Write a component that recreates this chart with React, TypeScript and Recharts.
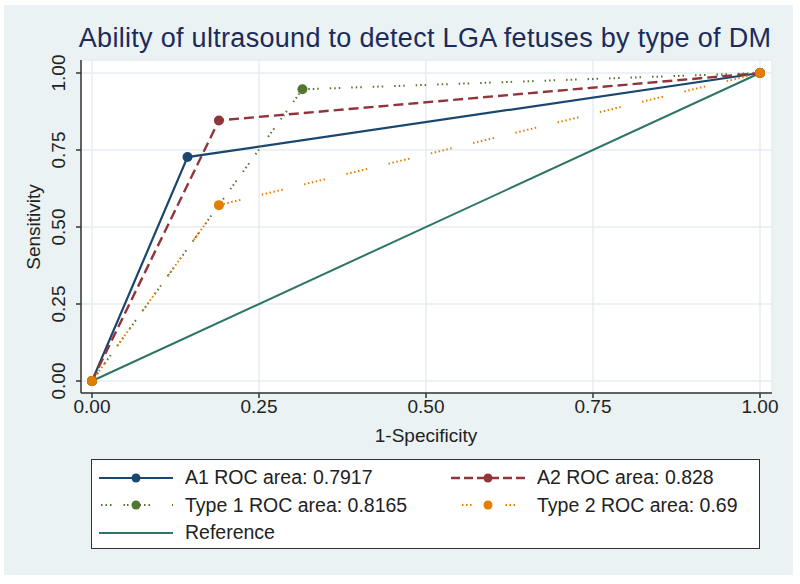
import { LineChart, Line, XAxis, YAxis, CartesianGrid, Legend } from "recharts";

// ROC points (1-specificity, sensitivity)
const a1Fpr = [0, 0.143, 1];
const a1Sens = [0, 0.727, 1];
const a2Fpr = [0, 0.19, 1];
const a2Sens = [0, 0.846, 1];
const t1Fpr = [0, 0.315, 1];
const t1Sens = [0, 0.947, 1];
const t2Fpr = [0, 0.19, 1];
const t2Sens = [0, 0.571, 1];
const refFpr = [0, 1];
const refSens = [0, 1];

const axisTicks = [0, 0.25, 0.5, 0.75, 1];
const seriesNames = [
  "A1 ROC area: 0.7917",
  "A2 ROC area: 0.828",
  "Type 1 ROC area: 0.8165",
  "Type 2 ROC area: 0.69",
  "Reference",
];

const FONT = '"Liberation Sans", Arial, sans-serif';
const TEXT = "#222";

const toPoints = (xs: number[], ys: number[]) => xs.map((x, i) => ({ x, y: ys[i] }));

const series = [
  { name: seriesNames[4], data: toPoints(refFpr, refSens), color: "#2d7566", dash: undefined, legendDash: undefined, width: 2, marker: false },
  { name: seriesNames[0], data: toPoints(a1Fpr, a1Sens), color: "#1a476f", dash: undefined, legendDash: undefined, width: 2.2, marker: true },
  { name: seriesNames[1], data: toPoints(a2Fpr, a2Sens), color: "#90353b", dash: "10 5", legendDash: "9 4", width: 2.4, marker: true },
  {
    name: seriesNames[2], data: toPoints(t1Fpr, t1Sens), color: "#55752f",
    dash: "1.5 3 1.5 3 1.5 11",
    legendDash: "0 2 1.5 3 1.5 3 1.5 12 1.5 2 1.5 11 1.5 3 1.5 3 1.5 22 1.5 10",
    width: 2, marker: true,
  },
  {
    name: seriesNames[3], data: toPoints(t2Fpr, t2Sens), color: "#e37e00",
    dash: "1.5 2.5 1.5 2.5 1.5 2.5 1.5 2.5 1.5 2.5 1.5 22",
    legendDash: "0 11 1.5 2.5 1.5 2.5 1.5 34 1.5 2.5 1.5 2.5 1.5 30",
    width: 2, marker: true,
  },
];

// legend order as in the figure: two columns, reference last
const legendOrder = [1, 2, 3, 4, 0];

function YTick({ x, y, payload }: { x?: number; y?: number; payload?: { value: number } }) {
  return (
    <text
      transform={`translate(${(x ?? 0) - 9},${y}) rotate(-90)`}
      textAnchor="middle"
      fontSize={19}
      fontFamily={FONT}
      fill={TEXT}
    >
      {payload?.value.toFixed(2)}
    </text>
  );
}

function LegendBox() {
  return (
    <div
      style={{
        boxSizing: "border-box",
        width: 669,
        height: 90,
        background: "#fff",
        border: "1.5px solid #333",
        padding: "4px 0 0 7px",
        display: "grid",
        gridTemplateColumns: "352px 1fr",
        gridAutoRows: "27.5px",
        fontFamily: FONT,
        fontSize: 19.5,
        color: TEXT,
      }}
    >
      {legendOrder.map((i) => {
        const s = series[i];
        return (
          <div key={s.name} style={{ display: "flex", alignItems: "center" }}>
            <svg width={74} height={20} style={{ marginRight: 12 }}>
              <line x1={0} y1={10} x2={74} y2={10} stroke={s.color} strokeWidth={s.width} strokeDasharray={s.legendDash} />
              {s.marker && <circle cx={37} cy={10} r={4.5} fill={s.color} />}
            </svg>
            <span>{s.name}</span>
          </div>
        );
      })}
    </div>
  );
}

export default function App() {
  return (
    <div style={{ position: "absolute", left: 0, top: 0, width: 800, height: 584, background: "#fff", fontFamily: FONT }}>
      <div style={{ position: "absolute", left: 4, top: 5, width: 789, height: 570, background: "#eaf2f3" }} />
      <div
        style={{
          position: "absolute",
          left: 25,
          top: 23,
          width: 800,
          textAlign: "center",
          fontSize: 27,
          letterSpacing: 0.3,
          lineHeight: "30px",
          color: "#1c2b5a",
          whiteSpace: "nowrap",
        }}
      >
        Ability of ultrasound to detect LGA fetuses by type of DM
      </div>
      <div style={{ position: "absolute", left: 0, top: 0 }}>
        <LineChart width={800} height={584} margin={{ top: 60, right: 28, bottom: 131, left: 0 }}>
          <CartesianGrid fill="#fff" stroke="#e4edf0" strokeWidth={1.5} />
          <XAxis
            type="number"
            dataKey="x"
            domain={[0, 1]}
            ticks={axisTicks}
            tickFormatter={(v: number) => v.toFixed(2)}
            padding={{ left: 11, right: 12 }}
            height={60}
            tickSize={5}
            stroke="#333"
            strokeWidth={1.5}
            tick={{ fill: TEXT, fontSize: 19, fontFamily: FONT }}
            label={() => (
              <text x={426} y={442} textAnchor="middle" fontSize={19} fontFamily={FONT} fill={TEXT}>
                1-Specificity
              </text>
            )}
          />
          <YAxis
            type="number"
            dataKey="y"
            domain={[0, 1]}
            ticks={axisTicks}
            padding={{ top: 13, bottom: 12 }}
            width={81}
            tickSize={5}
            stroke="#333"
            strokeWidth={1.5}
            tick={<YTick />}
            label={() => (
              <text transform="translate(40,227) rotate(-90)" textAnchor="middle" fontSize={19} fontFamily={FONT} fill={TEXT}>
                Sensitivity
              </text>
            )}
          />
          {series.map((s) => (
            <Line
              key={s.name}
              name={s.name}
              data={s.data}
              dataKey="y"
              type="linear"
              stroke={s.color}
              strokeWidth={s.width}
              strokeDasharray={s.dash}
              dot={s.marker ? { r: 5, fill: s.color, stroke: "none", strokeDasharray: "" } : false}
              activeDot={false}
              isAnimationActive={false}
            />
          ))}
          <Legend
            layout="horizontal"
            verticalAlign="middle"
            align="center"
            content={() => <LegendBox />}
            wrapperStyle={{ position: "absolute", left: 91, top: 459, width: 669, height: 90 }}
          />
        </LineChart>
      </div>
    </div>
  );
}
